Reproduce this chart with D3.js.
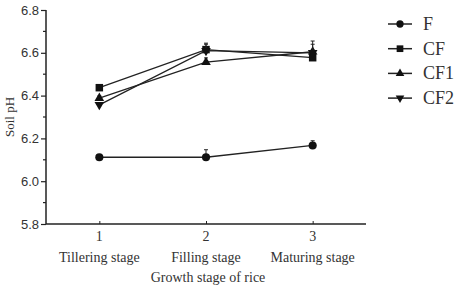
<!DOCTYPE html>
<html lang="en">
<head>
<meta charset="UTF-8">
<title>soil pH</title>
<style>
  body { margin: 0; background: #fff; }
  svg { display: block; }
  .ytick text { font: 13px "Liberation Sans", Arial, sans-serif; fill: #333; }
  .serif { font-family: "Liberation Serif", "Times New Roman", serif; fill: #333; }
</style>
</head>
<body>
<div class="content"></div>
<script src="https://cdnjs.cloudflare.com/ajax/libs/d3/7.8.5/d3.min.js"></script>
<script>
  var width = 457, height = 287;

  var stages = [1, 2, 3];
  var stageNames = ["Tillering stage", "Filling stage", "Maturing stage"];
  var seriesNames = ["F", "CF", "CF1", "CF2"];
  var valF   = [6.112, 6.112, 6.167];
  var valCF  = [6.437, 6.615, 6.577];
  var valCF1 = [6.388, 6.556, 6.605];
  var valCF2 = [6.357, 6.610, 6.600];
  var errF   = [0.013, 0.035, 0.022];
  var errCF  = [0.010, 0.030, 0.035];
  var errCF1 = [0.010, 0.020, 0.050];
  var errCF2 = [0.010, 0.030, 0.040];
  var yTicks = [5.8, 6.0, 6.2, 6.4, 6.6, 6.8];

  var series = [
    { name: seriesNames[0], vals: valF,   errs: errF,   sym: d3.symbolCircle,   size: 52 },
    { name: seriesNames[1], vals: valCF,  errs: errCF,  sym: d3.symbolSquare,   size: 56 },
    { name: seriesNames[2], vals: valCF1, errs: errCF1, sym: d3.symbolTriangle, size: 40 },
    { name: seriesNames[3], vals: valCF2, errs: errCF2, sym: d3.symbolTriangle, size: 40, flip: true }
  ];

  var x = d3.scaleLinear().domain([0.5, 3.5]).range([46, 366]);
  var y = d3.scaleLinear().domain([5.8, 6.8]).range([224, 10]);

  var svg = d3.select(".content").append("svg")
    .attr("width", width).attr("height", height);

  var ink = "#222";

  // y axis
  var yAxis = svg.append("g").attr("class", "ytick")
    .attr("transform", "translate(46,0)")
    .call(d3.axisLeft(y).tickValues(yTicks).tickFormat(d3.format(".1f")).tickSize(5).tickPadding(2));
  yAxis.select(".domain").attr("stroke", ink).attr("stroke-width", 1.5).attr("d", "M0,10V224");
  yAxis.selectAll("line").attr("stroke", ink).attr("stroke-width", 1.2);
  svg.append("g").selectAll("line")
    .data(d3.range(5.9, 6.8, 0.2))
    .enter().append("line")
    .attr("x1", 43).attr("x2", 46)
    .attr("y1", function (d) { return y(d); }).attr("y2", function (d) { return y(d); })
    .attr("stroke", ink).attr("stroke-width", 1.2);

  // x axis
  var xAxis = svg.append("g")
    .attr("transform", "translate(0,224)")
    .call(d3.axisTop(x).tickValues(stages).tickSize(3).tickFormat(""));
  xAxis.select(".domain").attr("stroke", ink).attr("stroke-width", 1.5).attr("d", "M46,0H366");
  xAxis.selectAll("line").attr("stroke", ink);

  svg.append("g").selectAll("text")
    .data(stages).enter().append("text")
    .attr("class", "serif")
    .attr("x", function (d) { return x(d); }).attr("y", 241)
    .attr("text-anchor", "middle").attr("font-size", 14)
    .text(function (d) { return d; });
  svg.append("g").selectAll("text")
    .data(stageNames).enter().append("text")
    .attr("class", "serif")
    .attr("x", function (d, i) { return x(stages[i]); }).attr("y", 262)
    .attr("text-anchor", "middle").attr("font-size", 14)
    .text(function (d) { return d; });
  svg.append("text").attr("class", "serif")
    .attr("x", 208).attr("y", 282).attr("text-anchor", "middle").attr("font-size", 14)
    .text("Growth stage of rice");
  svg.append("text").attr("class", "serif")
    .attr("transform", "translate(14,117) rotate(-90)")
    .attr("text-anchor", "middle").attr("font-size", 13)
    .text("Soil pH");

  var line = d3.line()
    .x(function (d, i) { return x(stages[i]); })
    .y(function (d) { return y(d); });

  function symPath(s) {
    return d3.symbol().type(s.sym).size(s.size)();
  }

  series.forEach(function (s) {
    var g = svg.append("g");
    g.append("path").attr("d", line(s.vals))
      .attr("fill", "none").attr("stroke", ink).attr("stroke-width", 1.3);
    s.vals.forEach(function (v, i) {
      var cx = x(stages[i]);
      g.append("line").attr("x1", cx).attr("x2", cx)
        .attr("y1", y(v)).attr("y2", y(v + s.errs[i]))
        .attr("stroke", ink).attr("stroke-width", 1);
      g.append("line").attr("x1", cx - 2).attr("x2", cx + 2)
        .attr("y1", y(v + s.errs[i])).attr("y2", y(v + s.errs[i]))
        .attr("stroke", ink).attr("stroke-width", 1);
      g.append("path").attr("d", symPath(s))
        .attr("transform", "translate(" + cx + "," + y(v) + ")" + (s.flip ? " rotate(180)" : ""))
        .attr("fill", "#111");
    });
  });

  // legend
  var legend = svg.append("g").selectAll("g")
    .data(series).enter().append("g")
    .attr("transform", function (d, i) { return "translate(388," + (24 + i * 24.7) + ")"; });
  legend.append("line").attr("x1", 0).attr("x2", 24)
    .attr("stroke", ink).attr("stroke-width", 1.5);
  legend.append("path")
    .attr("d", function (d) { return d3.symbol().type(d.sym).size(d.size * 0.8)(); })
    .attr("transform", function (d) { return "translate(12,0)" + (d.flip ? " rotate(180)" : ""); })
    .attr("fill", "#111");
  legend.append("text").attr("class", "serif")
    .attr("x", 35).attr("y", 6).attr("font-size", 18)
    .text(function (d) { return d.name; });
</script>
</body>
</html>
